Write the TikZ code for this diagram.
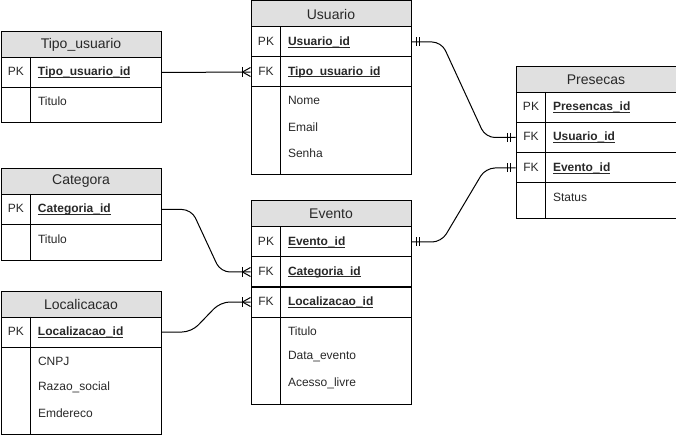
\documentclass[tikz,border=0pt]{standalone}
\usepackage{fontspec}
\setmainfont{Liberation Sans}
\definecolor{hdr}{RGB}{224,224,224}
\definecolor{ttl}{RGB}{40,40,40}
\newsavebox\KeyBox
\newcommand\Uline[1]{\sbox\KeyBox{#1}\rlap{\rule[-1.6pt]{\wd\KeyBox}{0.6pt}}\usebox\KeyBox}
\newcommand\KeyRow[2]{\noindent\makebox[22.5pt][c]{#1}\hspace{5.25pt}\Uline{\textbf{#2}}}
\newcommand\ErMany[1]{\draw ([xshift=-6pt]#1) ++(0,-5) -- ++(0,10); \draw ([xshift=-6pt]#1) -- ++(8,-4.5); \draw ([xshift=-6pt]#1) -- ++(8,4.5);}
\newcommand\ErOne[2]{\draw ([xshift=#2*3.75pt]#1) ++(0,-4.5) -- ++(0,9); \draw ([xshift=#2*6pt]#1) ++(0,-4.5) -- ++(0,9);}
\begin{document}
\begin{tikzpicture}[x=0.75pt,y=-0.75pt,line width=0.75pt,
  hdrbox/.style={draw, fill=hdr, anchor=north west, minimum width=120pt, minimum height=19.5pt, inner sep=0pt, font=\fontsize{10.5pt}{12pt}\selectfont, text=ttl},
  keyrow/.style={draw, anchor=north west, minimum width=120pt, minimum height=22.5pt, inner sep=0pt, text width=120pt, align=left, font=\fontsize{9pt}{11pt}\selectfont, text=ttl},
  attrbox/.style={draw, anchor=north west, minimum width=120pt, inner sep=0pt},
  attr/.style={anchor=west, inner sep=0pt, font=\fontsize{9pt}{11pt}\selectfont, text=ttl},
  erline/.style={rounded corners=7pt}]
\useasboundingbox (0,0) rectangle (676,435);

% Tipo_usuario
\node[hdrbox] (tu-title) at (0.5,31) {Tipo\_usuario};
\node[keyrow] (tu-pk) at (0.5,57) {\KeyRow{PK}{Tipo\_usuario\_id}};
\node[attrbox, minimum height=26.25pt] (tu-at) at (0.5,87) {};
\node[attr] (tu-a1) at (37.5,101) {Titulo};
\draw ([xshift=22.5pt]tu-pk.north west) -- ([xshift=22.5pt]tu-at.south west);

% Usuario
\node[hdrbox] (us-title) at (250.5,0.5) {Usuario};
\node[keyrow] (us-pk) at (250.5,26.5) {\KeyRow{PK}{Usuario\_id}};
\node[keyrow] (us-fk) at (250.5,56.5) {\KeyRow{FK}{Tipo\_usuario\_id}};
\node[attrbox, minimum height=65.6pt] (us-at) at (250.5,86.5) {};
\node[attr] (us-a1) at (287.5,100) {Nome};
\node[attr] (us-a2) at (287.5,127) {Email};
\node[attr] (us-a3) at (287.5,153) {Senha};
\draw ([xshift=22.5pt]us-pk.north west) -- ([xshift=22.5pt]us-at.south west);

% Presecas
\node[hdrbox] (pr-title) at (515.5,66) {Presecas};
\node[keyrow] (pr-pk) at (515.5,92) {\KeyRow{PK}{Presencas\_id}};
\node[keyrow] (pr-fk1) at (515.5,122) {\KeyRow{FK}{Usuario\_id}};
\node[keyrow] (pr-fk2) at (515.5,152.5) {\KeyRow{FK}{Evento\_id}};
\node[attrbox, minimum height=26.6pt] (pr-at) at (515.5,182.5) {};
\node[attr] (pr-a1) at (552.5,197) {Status};
\draw ([xshift=22.5pt]pr-pk.north west) -- ([xshift=22.5pt]pr-at.south west);

% Categora
\node[hdrbox] (ca-title) at (0.5,168) {Categora};
\node[keyrow] (ca-pk) at (0.5,194) {\KeyRow{PK}{Categoria\_id}};
\node[attrbox, minimum height=27pt] (ca-at) at (0.5,224) {};
\node[attr] (ca-a1) at (37.5,239) {Titulo};
\draw ([xshift=22.5pt]ca-pk.north west) -- ([xshift=22.5pt]ca-at.south west);

% Localicacao
\node[hdrbox] (lo-title) at (0.5,290.5) {Localicacao};
\node[keyrow] (lo-pk) at (0.5,316.5) {\KeyRow{PK}{Localizacao\_id}};
\node[attrbox, minimum height=65.6pt] (lo-at) at (0.5,346.5) {};
\node[attr] (lo-a1) at (37.5,361) {CNPJ};
\node[attr] (lo-a2) at (37.5,387) {Razao\_social};
\node[attr] (lo-a3) at (37.5,413) {Emdereco};
\draw ([xshift=22.5pt]lo-pk.north west) -- ([xshift=22.5pt]lo-at.south west);

% Evento
\node[hdrbox] (ev-title) at (250.5,200.5) {Evento};
\node[keyrow] (ev-pk) at (250.5,226.5) {\KeyRow{PK}{Evento\_id}};
\node[keyrow] (ev-fk1) at (250.5,256.5) {\KeyRow{FK}{Categoria\_id}};
\node[keyrow] (ev-fk2) at (250.5,286.5) {\KeyRow{FK}{Localizacao\_id}};
\node[attrbox, minimum height=65.6pt] (ev-at) at (250.5,316.5) {};
\node[attr] (ev-a1) at (287.5,331) {Titulo};
\node[attr] (ev-a2) at (287.5,357) {Data\_evento};
\node[attr] (ev-a3) at (287.5,383) {Acesso\_livre};
\draw ([xshift=22.5pt]ev-pk.north west) -- ([xshift=22.5pt]ev-at.south west);

% Relationships
\draw (tu-pk.east) -- (us-fk.west); \ErMany{us-fk.west}
\draw[erline] (us-pk.east) -- ++(30,0) -- ([xshift=-22.5pt]pr-fk1.west) -- (pr-fk1.west);
\ErOne{us-pk.east}{1} \ErOne{pr-fk1.west}{-1}
\draw[erline] (ev-pk.east) -- ++(30,0) -- ([xshift=-22.5pt]pr-fk2.west) -- (pr-fk2.west);
\ErOne{ev-pk.east}{1} \ErOne{pr-fk2.west}{-1}
\draw[erline] (ca-pk.east) -- ++(30,0) -- ([xshift=-22.5pt]ev-fk1.west) -- (ev-fk1.west);
\ErMany{ev-fk1.west}
\draw[erline] (lo-pk.east) -- ++(30,0) -- ([xshift=-22.5pt]ev-fk2.west) -- (ev-fk2.west);
\ErMany{ev-fk2.west}
\end{tikzpicture}
\end{document}
